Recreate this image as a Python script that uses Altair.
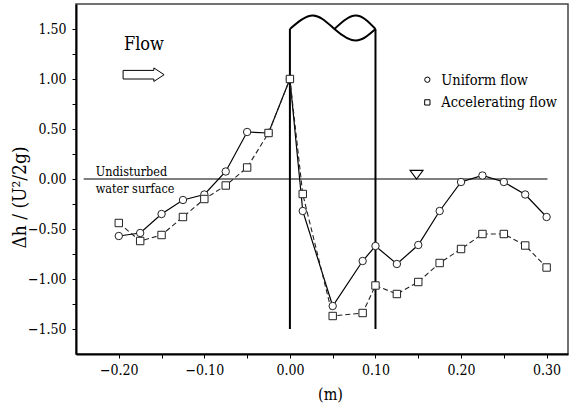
import altair as alt
import pandas as pd

# Measurement stations along the channel (m) and relative water-surface change
positions = [-0.2, -0.175, -0.15, -0.125, -0.1, -0.075, -0.05, -0.025, 0.0, 0.015,
             0.05, 0.085, 0.1, 0.125, 0.15, 0.175, 0.2, 0.225, 0.25, 0.275, 0.3]
uniform_flow = [-0.57, -0.54, -0.35, -0.21, -0.155, 0.075, 0.47, 0.46, 1.00, -0.32,
                -1.27, -0.82, -0.67, -0.85, -0.66, -0.32, -0.03, 0.035, -0.03, -0.155, -0.38]
accelerating_flow = [-0.44, -0.62, -0.56, -0.38, -0.20, -0.065, 0.115, 0.46, 1.00, -0.15,
                     -1.37, -1.34, -1.065, -1.15, -1.03, -0.84, -0.70, -0.55, -0.55, -0.665, -0.885]
series_names = ["Uniform flow", "Accelerating flow"]
series_shapes = ["circle", "square"]

# Key placement (data units)
key_symbol_x = 0.1606
key_text_x = 0.1769
key_rows_y = [0.993, 0.766]

# Axis ticks
x_ticks = [-0.2, -0.15, -0.1, -0.05, 0.0, 0.05, 0.1, 0.15, 0.2, 0.25, 0.3]
y_ticks = [-1.5, -1.25, -1.0, -0.75, -0.5, -0.25, 0.0, 0.25, 0.5, 0.75, 1.0, 1.25, 1.5]

# Pier: side walls and wavy top outline
pier_walls_x = [0.0, 0.1]
pier_wall_bottom = -1.5
pier_wall_top = 1.5
pier_wave_x = [0.0, 0.027, 0.052, 0.077, 0.1]
pier_wave_y = [1.5, 1.635, 1.5, 1.385, 1.5]
pier_hump_x = [0.052, 0.077, 0.1]
pier_hump_y = [1.5, 1.635, 1.5]

# Undisturbed water surface line and free-surface marker
surface_x = [-0.241, 0.301]
surface_marker_x = 0.148

FONT = "'DejaVu Serif Condensed', 'DejaVu Serif', serif"

df_u = pd.DataFrame({"x": positions, "y": uniform_flow, "series": series_names[0]})
df_a = pd.DataFrame({"x": positions, "y": accelerating_flow, "series": series_names[1]})
df_pts = pd.concat([df_u, df_a], ignore_index=True)

x_label_expr = "abs(datum.value*10 - round(datum.value*10)) < 1e-6 ? format(datum.value, '.2f') : ''"
y_label_expr = "abs(datum.value*2 - round(datum.value*2)) < 1e-6 ? format(datum.value, '.2f') : ''"

x_scale = alt.Scale(domain=[-0.25, 0.325], nice=False, zero=False)
x_enc = alt.X(
    "x:Q", scale=x_scale,
    axis=alt.Axis(
        values=x_ticks, labelExpr=x_label_expr, title="(m)", grid=False,
        tickSize=4, labelPadding=5, labelFontSize=14, labelFont=FONT,
        titleFont=FONT, titleFontSize=16, titleFontWeight="normal",
        titleX=254, titleY=40, titleBaseline="middle", titleAlign="center",
    ),
)
y_enc = alt.Y(
    "y:Q",
    scale=alt.Scale(domain=[-1.75, 1.75], nice=False, zero=False),
    axis=alt.Axis(
        values=y_ticks, labelExpr=y_label_expr, title="\u0394h / (U\u00b2/2g)", grid=False,
        tickSize=4, labelPadding=6, labelFontSize=14, labelFont=FONT,
        titleFont=FONT, titleFontSize=19, titleFontWeight="normal",
        titleX=-57, titleY=193, titleAngle=270, titleBaseline="middle", titleAlign="center",
    ),
)

shape_scale = alt.Scale(domain=series_names, range=series_shapes)

surface = alt.Chart(pd.DataFrame({"x": [surface_x[0]], "x2": [surface_x[1]], "y": [0.0]})).mark_rule(
    color="black", strokeWidth=1.2
).encode(x=x_enc, x2="x2:Q", y=y_enc)

walls = alt.Chart(pd.DataFrame({
    "x": pier_walls_x, "y": [pier_wall_bottom] * 2, "y2": [pier_wall_top] * 2
})).mark_rule(color="black", strokeWidth=2).encode(x=x_enc, y=y_enc, y2="y2:Q")

pier_top_df = pd.concat([
    pd.DataFrame({"x": pier_wave_x, "y": pier_wave_y, "part": "wave", "i": range(len(pier_wave_x))}),
    pd.DataFrame({"x": pier_hump_x, "y": pier_hump_y, "part": "hump", "i": range(len(pier_hump_x))}),
])
pier_top = alt.Chart(pier_top_df).mark_line(
    color="black", strokeWidth=2, interpolate="natural"
).encode(x=x_enc, y=y_enc, detail="part:N", order="i:Q")

line_u = alt.Chart(df_u).mark_line(color="black", strokeWidth=1.2).encode(x=x_enc, y=y_enc)
line_a = alt.Chart(df_a).mark_line(color="#222", strokeWidth=1.1, strokeDash=[5, 3]).encode(x=x_enc, y=y_enc)

points = alt.Chart(df_pts).mark_point(
    filled=True, fill="white", stroke="#222", strokeWidth=1, size=55, opacity=1
).encode(
    x=x_enc, y=y_enc,
    shape=alt.Shape("series:N", scale=shape_scale, legend=None),
)

# Key: symbol and label per series
key_df = pd.DataFrame({
    "x": [key_symbol_x] * 2, "tx": [key_text_x] * 2, "y": key_rows_y, "series": series_names
})
key_symbols = alt.Chart(key_df).mark_point(
    filled=True, fill="white", stroke="black", strokeWidth=1, size=28, opacity=1
).encode(x=x_enc, y=y_enc, shape=alt.Shape("series:N", scale=shape_scale, legend=None))
key_labels = alt.Chart(key_df).mark_text(
    align="left", baseline="middle", font=FONT, fontSize=14.5, color="black", dy=1
).encode(x=alt.X("tx:Q", scale=x_scale), y=y_enc, text="series:N")

flow_text = alt.Chart(pd.DataFrame({"x": [-0.194], "y": [1.293], "label": ["Flow"]})).mark_text(
    align="left", baseline="alphabetic", font=FONT, fontSize=18, color="black"
).encode(x=x_enc, y=y_enc, text="label:N")

note_text = alt.Chart(pd.DataFrame({
    "x": [-0.227, -0.227], "y": [0.033, -0.14], "label": ["Undisturbed", "water surface"]
})).mark_text(
    align="left", baseline="alphabetic", font=FONT, fontSize=12.5, color="black"
).encode(x=x_enc, y=y_enc, text="label:N")

arrow = alt.Chart(pd.DataFrame({"x": [-0.171], "y": [1.043]})).mark_point(
    shape="M -1 -0.21 L 0.5 -0.21 L 0.5 -0.33 L 1 0 L 0.5 0.33 L 0.5 0.21 L -1 0.21 Z",
    filled=False, stroke="black", strokeWidth=1, size=1681, opacity=1,
).encode(x=x_enc, y=y_enc)

marker = alt.Chart(pd.DataFrame({"x": [surface_marker_x], "y": [0.0]})).mark_point(
    shape="M -1 -1.32 L 1 -1.32 L 0 0 Z",
    filled=False, stroke="black", strokeWidth=1.1, size=169, opacity=1,
).encode(x=x_enc, y=y_enc)

chart = alt.layer(
    surface, walls, pier_top, line_u, line_a, points, key_symbols, key_labels,
    flow_text, note_text, arrow, marker
).properties(
    width=492, height=350,
    padding={"left": 76, "top": 4, "right": 1, "bottom": 52},
    autosize="none",
).configure_view(
    stroke="#444", strokeWidth=1.5
).configure_axis(
    domainColor="black", domainWidth=2, tickColor="black", tickWidth=1,
    labelColor="black", titleColor="black",
)

chart.save("out.html", embed_options={"renderer": "svg", "actions": False})
